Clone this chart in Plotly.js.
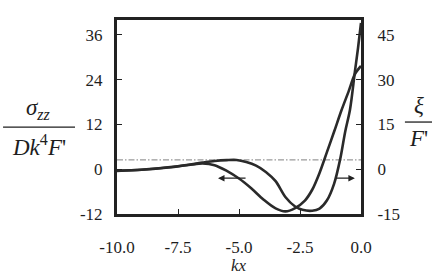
<!DOCTYPE html>
<html>
<head>
<meta charset="utf-8">
<script src="https://cdn.plot.ly/plotly-3.0.1.min.js"></script>
<style>html,body{margin:0;padding:0;background:#fff;}#chart{width:438px;height:276px;}</style>
</head>
<body>
<div id="chart"></div>
<script>
// sigma_zz / (D k^4 F')  -- left axis
const sigmaX = [-10, -9, -8, -7, -6.5, -6.0, -5.5, -5.0, -4.5, -4.0, -3.5, -3.1, -2.7, -2.3, -2.0, -1.7, -1.4, -1.1, -0.8, -0.5, -0.25, 0];
const sigmaY = [-0.4, -0.15, 0.4, 1.2, 1.55, 1.1, -0.45, -2.5, -5.1, -8.1, -10.5, -11.3, -10.4, -8.4, -5.5, -1.0, 4.5, 10.1, 15.8, 21, 25.5, 27.7];
// xi / F'  -- right axis
const xiX = [-10, -9, -8, -7, -6.5, -6, -5.5, -5.1, -4.7, -4.3, -3.9, -3.5, -3.1, -2.7, -2.4, -2.0, -1.7, -1.4, -1.1, -0.85, -0.65, -0.45, -0.25, -0.12, 0];
const xiY = [-0.55, -0.15, 0.6, 1.6, 2.2, 2.75, 3.05, 3.1, 2.4, 1.2, -0.9, -4.0, -9.3, -12.5, -13.6, -13.9, -13.2, -10.5, -4.8, 3.5, 12.5, 20, 32.7, 40.7, 49];
// dash-dot reference line
const refLineX = [-10, 0];
const refLineY = [2.5, 2.5];
// ticks
const xTickVals = [-10, -7.5, -5, -2.5, 0];
const xTickText = ['-10.0', '-7.5', '-5.0', '-2.5', '0.0'];
const yTickVals = [-12, 0, 12, 24, 36];
const yTickText = ['-12', '0', '12', '24', '36'];
const y2TickVals = [-15, 0, 15, 30, 45];
const y2TickText = ['-15', '0', '15', '30', '45'];

const serif = '"Liberation Serif", "Times New Roman", serif';
const ink = '#1e1e1e';
const tickFont = {family: serif, size: 17, color: ink};

const traces = [
  {x: refLineX, y: refLineY, type: 'scatter', mode: 'lines', yaxis: 'y',
   line: {color: '#808080', width: 1, dash: '6px,2px,1.5px,2px'}, hoverinfo: 'skip'},
  {x: sigmaX, y: sigmaY, type: 'scatter', mode: 'lines', yaxis: 'y',
   line: {color: '#2a2a2a', width: 2.6, shape: 'spline', smoothing: 0.9}},
  {x: xiX, y: xiY, type: 'scatter', mode: 'lines', yaxis: 'y2',
   line: {color: '#2a2a2a', width: 2.6, shape: 'spline', smoothing: 0.9}}
];

const axisCommon = {
  showgrid: false, zeroline: false, showline: true, linewidth: 3, linecolor: '#222',
  ticks: 'inside', ticklen: 5, tickwidth: 1, tickcolor: '#222', tickfont: tickFont
};

const layout = {
  width: 438, height: 276,
  margin: {l: 117, r: 77, t: 20, b: 62, pad: 0},
  paper_bgcolor: '#fff', plot_bgcolor: '#fff',
  font: {family: serif, color: ink},
  showlegend: false,
  xaxis: Object.assign({}, axisCommon, {
    range: [-10, 0], tickvals: xTickVals, ticktext: xTickText, mirror: true,
    ticklabelstandoff: 16
  }),
  yaxis: Object.assign({}, axisCommon, {
    range: [-12, 40], tickvals: yTickVals, ticktext: yTickText, ticklabelstandoff: 8
  }),
  yaxis2: Object.assign({}, axisCommon, {
    range: [-15, 50], tickvals: y2TickVals, ticktext: y2TickText, overlaying: 'y', side: 'right',
    ticklabelstandoff: 10
  }),
  shapes: [
    {type: 'line', xref: 'paper', yref: 'paper', x0: -0.467, x1: -0.172, y0: 0.448, y1: 0.448,
     line: {color: ink, width: 1.3}},
    {type: 'line', xref: 'paper', yref: 'paper', x0: 1.180, x1: 1.291, y0: 0.474, y1: 0.474,
     line: {color: ink, width: 1.3}}
  ],
  annotations: [
    {xref: 'paper', yref: 'paper', x: 0.5, y: -0.318, xanchor: 'center', yanchor: 'bottom',
     borderpad: 0, text: '<i>kx</i>', showarrow: false, font: {family: serif, size: 17, color: ink}},
    {xref: 'paper', yref: 'paper', x: -0.32, y: 0.46, xanchor: 'center', yanchor: 'bottom',
     text: '<i>σ<sub>zz</sub></i>', showarrow: false, font: {family: serif, size: 23, color: ink}},
    {xref: 'paper', yref: 'paper', x: -0.32, y: 0.44, xanchor: 'center', yanchor: 'top',
     text: '<i>Dk</i><sup>4</sup><i>F</i>\'', showarrow: false, font: {family: serif, size: 23, color: ink}},
    {xref: 'paper', yref: 'paper', x: 1.236, y: 0.485, xanchor: 'center', yanchor: 'bottom',
     text: '<i>ξ</i>', showarrow: false, font: {family: serif, size: 23, color: ink}},
    {xref: 'paper', yref: 'paper', x: 1.236, y: 0.465, xanchor: 'center', yanchor: 'top',
     text: '<i>F</i>\'', showarrow: false, font: {family: serif, size: 23, color: ink}},
    {x: -5.86, y: -2.4, xref: 'x', yref: 'y', ax: -4.67, ay: -2.4, axref: 'x', ayref: 'y',
     text: '', showarrow: true, arrowhead: 2, arrowsize: 1, arrowwidth: 1.3, arrowcolor: '#222'},
    {x: -0.25, y: -2.4, xref: 'x', yref: 'y', ax: -1.07, ay: -2.4, axref: 'x', ayref: 'y',
     text: '', showarrow: true, arrowhead: 2, arrowsize: 1, arrowwidth: 1.3, arrowcolor: '#222'}
  ]
};

Plotly.newPlot('chart', traces, layout, {staticPlot: true, displayModeBar: false});
</script>
</body>
</html>
